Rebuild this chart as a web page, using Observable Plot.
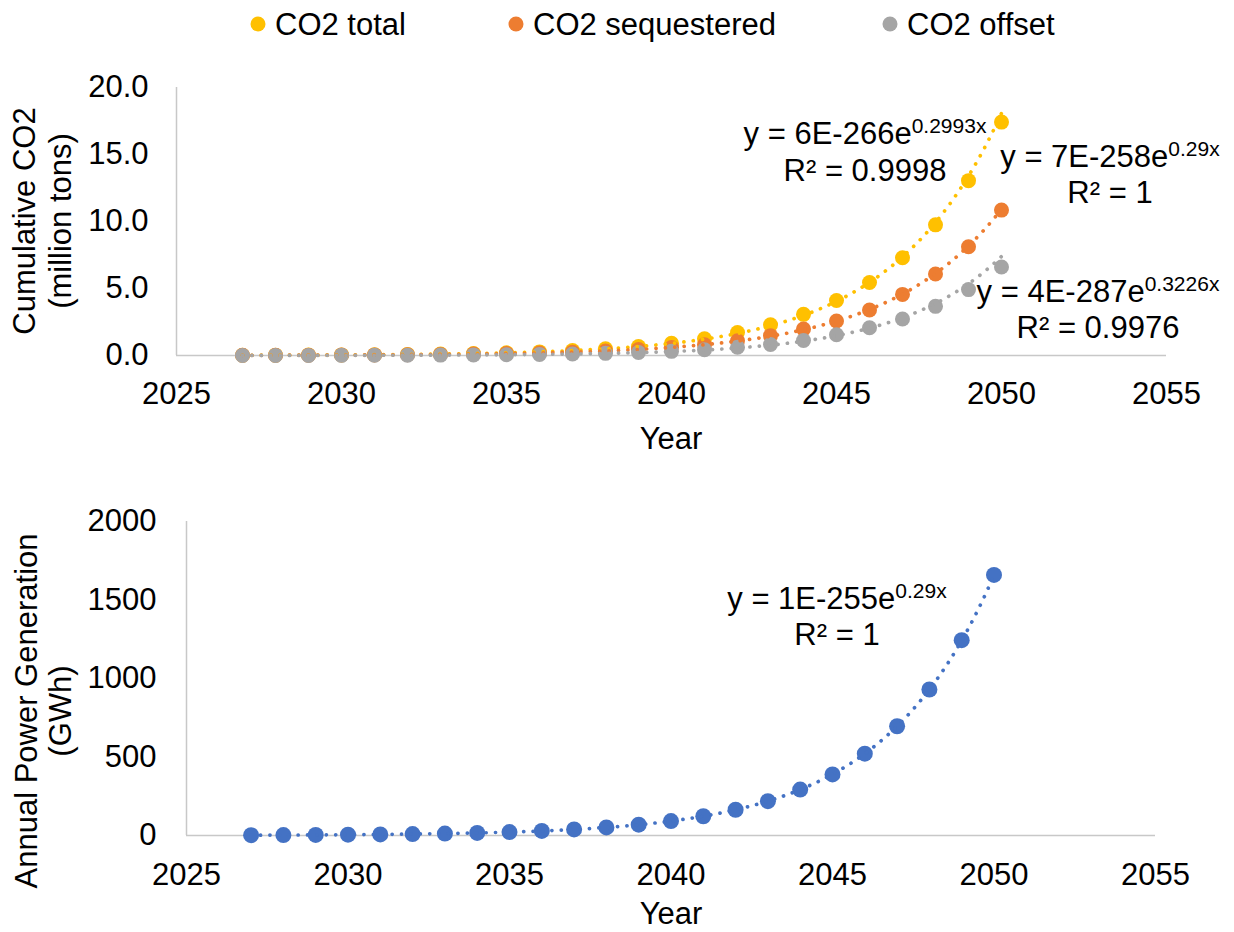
<!DOCTYPE html>
<html><head><meta charset="utf-8">
<script src="https://cdn.jsdelivr.net/npm/d3@7"></script>
<script src="https://cdn.jsdelivr.net/npm/@observablehq/plot@0.6"></script>
<style>
body{margin:0;background:#fff;}
#wrap{position:relative;width:1234px;height:932px;font-family:"Liberation Sans",Arial,sans-serif;background:#fff;}
#wrap > svg{position:absolute;left:0;}
</style></head><body><div id="wrap"></div>
<script>
// ---- data ----
const years = [2027,2028,2029,2030,2031,2032,2033,2034,2035,2036,2037,2038,2039,2040,2041,2042,2043,2044,2045,2046,2047,2048,2049,2050];
const co2Total = [0.018,0.025,0.034,0.045,0.061,0.082,0.11,0.148,0.2,0.27,0.37,0.5,0.67,0.91,1.25,1.72,2.30,3.07,4.10,5.45,7.29,9.75,13.05,17.42];
const co2Sequestered = [0.014,0.019,0.025,0.033,0.045,0.06,0.08,0.105,0.14,0.19,0.25,0.34,0.45,0.60,0.80,1.10,1.48,1.98,2.57,3.40,4.56,6.08,8.12,10.85];
const co2Offset = [0.0043,0.006,0.0083,0.0115,0.016,0.022,0.031,0.043,0.060,0.083,0.115,0.160,0.223,0.309,0.43,0.62,0.82,1.12,1.55,2.07,2.72,3.67,4.92,6.60];
const powerGen = [2.1,2.9,3.8,5.1,6.8,9.1,12.1,16.2,21.6,28.9,38.6,51.5,68.8,91.9,122.7,163.9,218.9,292.3,389,521,696,930,1244,1660];
const seriesNames = ["CO2 total","CO2 sequestered","CO2 offset"];
const seriesColors = ["#FFC000","#ED7D31","#A5A5A5"];
const powerColor = "#4472C4";
const xTicks = [2025,2030,2035,2040,2045,2050,2055];
const yTicksTop = [0,5,10,15,20];
const yTicksBottom = [0,500,1000,1500,2000];
const eqTop = [
  {main:"y = 6E-266e", sup:"0.2993x", r2:"R² = 0.9998"},
  {main:"y = 7E-258e", sup:"0.29x", r2:"R² = 1"},
  {main:"y = 4E-287e", sup:"0.3226x", r2:"R² = 0.9976"}
];
const eqBottom = {main:"y = 1E-255e", sup:"0.29x", r2:"R² = 1"};
const yLabelTop = ["Cumulative CO2","(million tons)"];
const yLabelBottom = ["Annual Power Generation","(GWh)"];
const xLabel = "Year";

// ---- helpers ----
function expFit(xs, ys){
  const n = xs.length;
  const ly = ys.map(Math.log);
  const mx = d3.mean(xs), my = d3.mean(ly);
  let sxy=0, sxx=0;
  for(let i=0;i<n;i++){ sxy += (xs[i]-mx)*(ly[i]-my); sxx += (xs[i]-mx)**2; }
  const b = sxy/sxx, lna = my - b*mx;
  const out = [];
  for(let x = xs[0]; x <= xs[n-1] + 1e-9; x += 0.1) out.push({x, y: Math.exp(lna + b*x)});
  return out;
}
const FONT = "'Liberation Sans', Arial, sans-serif";
const axisColor = "#C8C8C8";
const allSeries = [co2Total, co2Sequestered, co2Offset].map((vals,i)=>({
  name: seriesNames[i], color: seriesColors[i],
  pts: years.map((y,j)=>({x:y, y:vals[j]})),
  trend: expFit(years, vals)
}));
const powerPts = years.map((y,j)=>({x:y, y:powerGen[j]}));
const powerTrend = expFit(years, powerGen);
const dash = {strokeWidth:3.7, strokeDasharray:"0.1,9.3", strokeLinecap:"round"};

const wrap = document.getElementById("wrap");

// ---- top chart ----
const topChart = Plot.plot({
  width:1234, height:420, marginLeft:176, marginRight:68, marginTop:37, marginBottom:115,
  style:{fontFamily:FONT, fontSize:"31px", color:"#000", background:"transparent", overflow:"visible"},
  x:{domain:[2025,2055]},
  y:{domain:[0,20]},
  marks:[
    Plot.axisX({ticks:xTicks, tickFormat:"d", tickSize:0, tickPadding:26, label:null, fontSize:31}),
    Plot.axisY({ticks:yTicksTop, tickFormat:".1f", tickSize:0, tickPadding:28, label:null, fontSize:31}),
    Plot.ruleX([2025], {stroke:axisColor, strokeWidth:1.5}),
    Plot.ruleY([0], {stroke:axisColor, strokeWidth:1.5}),
    ...allSeries.map(s => Plot.dot(s.pts, {x:"x", y:"y", r:7.5, fill:s.color})),
    ...allSeries.map(s => Plot.line(s.trend, {x:"x", y:"y", stroke:s.color, ...dash}))
  ]
});
topChart.style.top = "50px";
wrap.appendChild(topChart);

// ---- bottom chart ----
const bottomChart = Plot.plot({
  width:1234, height:452, marginLeft:186, marginRight:79, marginTop:41, marginBottom:97,
  style:{fontFamily:FONT, fontSize:"31px", color:"#000", background:"transparent", overflow:"visible"},
  x:{domain:[2025,2055]},
  y:{domain:[0,2000]},
  marks:[
    Plot.axisX({ticks:xTicks, tickFormat:"d", tickSize:0, tickPadding:27, label:null, fontSize:31}),
    Plot.axisY({ticks:yTicksBottom, tickFormat:"d", tickSize:0, tickPadding:30, label:null, fontSize:31}),
    Plot.ruleX([2025], {stroke:axisColor, strokeWidth:1.5}),
    Plot.ruleY([0], {stroke:axisColor, strokeWidth:1.5}),
    Plot.dot(powerPts, {x:"x", y:"y", r:8, fill:powerColor}),
    Plot.line(powerTrend, {x:"x", y:"y", stroke:powerColor, ...dash})
  ]
});
bottomChart.style.top = "480px";
wrap.appendChild(bottomChart);

// ---- overlay texts ----
const ov = d3.select(wrap).append("svg")
  .attr("width",1234).attr("height",932)
  .style("position","absolute").style("left","0px").style("top","0px")
  .style("pointer-events","none")
  .attr("font-family", FONT).attr("font-size", 31).attr("fill","#000");

// legend
const legX = [258, 516, 890];
seriesNames.forEach((n,i)=>{
  ov.append("circle").attr("cx",legX[i]).attr("cy",24).attr("r",7.5).attr("fill",seriesColors[i]);
  ov.append("text").attr("x",legX[i]+17).attr("y",34.5).text(n);
});

// y labels
function vlabel(lines, xs, cy){
  lines.forEach((t,i)=>{
    ov.append("text").attr("transform",`translate(${xs[i]},${cy}) rotate(-90)`)
      .attr("text-anchor","middle").text(t);
  });
}
vlabel(yLabelTop, [35,71], 221);
vlabel(yLabelBottom, [37,71], 711);

// x labels
ov.append("text").attr("x",671).attr("y",449).attr("text-anchor","middle").text(xLabel);
ov.append("text").attr("x",671).attr("y",924).attr("text-anchor","middle").text(xLabel);

// equations
function eq(e, cx, b1, b2){
  const t = ov.append("text").attr("x",cx).attr("y",b1).attr("text-anchor","middle");
  t.append("tspan").text(e.main);
  t.append("tspan").attr("font-size",21).attr("dy",-11).text(e.sup);
  ov.append("text").attr("x",cx).attr("y",b2).attr("text-anchor","middle").text(e.r2);
}
eq(eqTop[0], 865, 143.5, 180.5);
eq(eqTop[1], 1110, 166.5, 202.5);
eq(eqTop[2], 1098, 302, 338);
eq(eqBottom, 837, 609, 645);
</script></body></html>
